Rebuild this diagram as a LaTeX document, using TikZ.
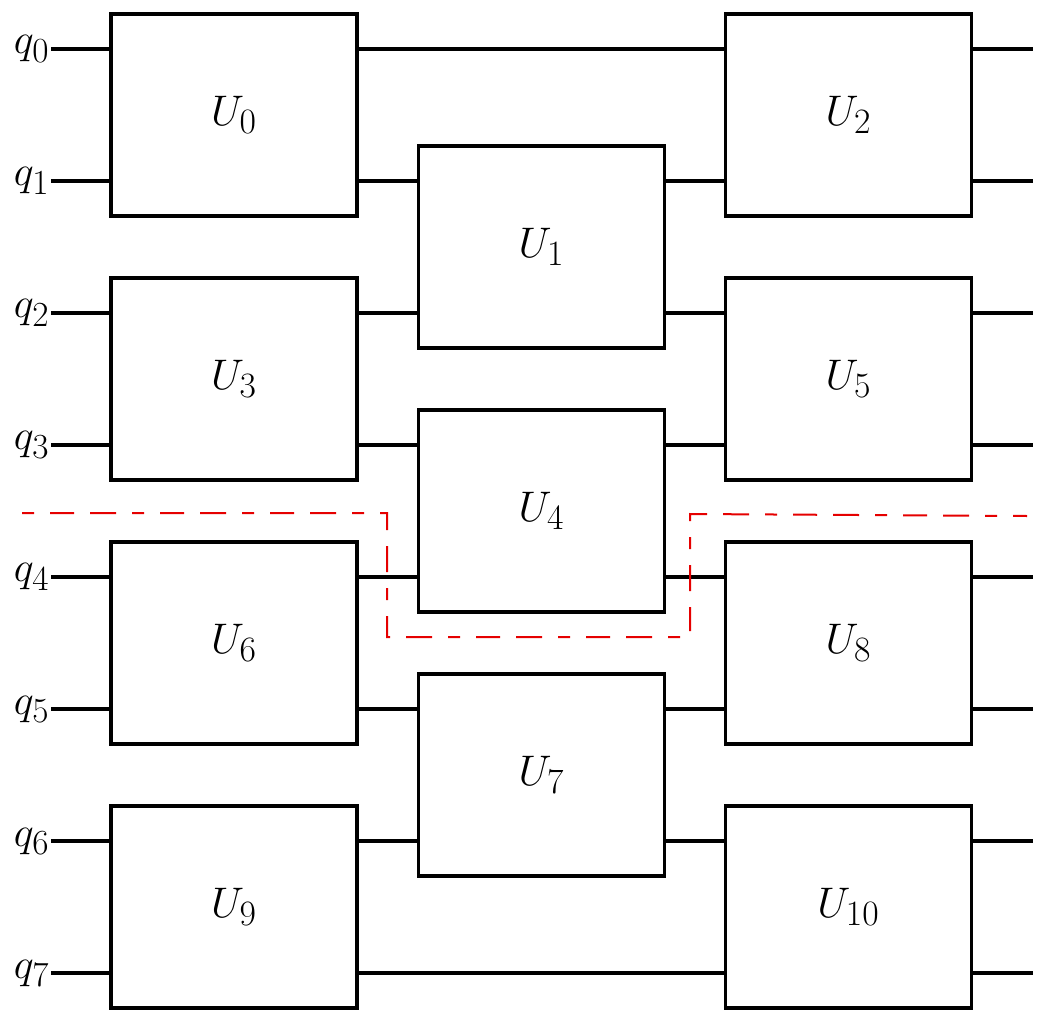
\documentclass[tikz,border=0pt]{standalone}
\usepackage{graphicx}
\newcommand{\biglab}[1]{\scalebox{1.72}{\Huge$#1$}}
\newcommand{\qlabtext}[1]{\scalebox{1.7}{\Huge$#1$}}
\begin{document}
\begin{tikzpicture}[x=1pt,y=-1pt,
  wire/.style={line width=3.2pt},
  gate/.style={draw,line width=3.2pt,fill=white,rectangle,inner sep=0pt,
    minimum width=246pt,minimum height=202pt},
  qlab/.style={anchor=east,inner sep=1.5pt},
  cut/.style={draw=red!90!black,line width=2pt,
    dash pattern=on 12pt off 16pt on 24pt off 16pt on 26pt off 16pt}]
\useasboundingbox (0,0) rectangle (1052,1030);
% wire labels and right ends
\foreach \i/\y in {0/49,1/181,2/313,3/445,4/577,5/709,6/841,7/973}{
  \node[qlab] (q\i) at (51,\y) {\qlabtext{q_{\i}}};
  \coordinate (e\i) at (1033,\y);
  \draw[wire] (q\i.east) -- (e\i);
}
% column 1
\node[gate] (U0) at (234,115) {\biglab{U_0}};
\node[gate] (U3) at (234,379) {\biglab{U_3}};
\node[gate] (U6) at (234,643) {\biglab{U_6}};
\node[gate] (U9) at (234,907) {\biglab{U_9}};
% column 2
\node[gate] (U1) at (541.5,247) {\biglab{U_1}};
\node[gate] (U4) at (541.5,511) {\biglab{U_4}};
\node[gate] (U7) at (541.5,775) {\biglab{U_7}};
% column 3
\node[gate] (U2) at (848.5,115) {\biglab{U_2}};
\node[gate] (U5) at (848.5,379) {\biglab{U_5}};
\node[gate] (U8) at (848.5,643) {\biglab{U_8}};
\node[gate] (U10) at (848.5,907) {\biglab{U_{10}}};
% cut line
\coordinate (c0) at (22,513);
\coordinate (c1) at (387,513);
\coordinate (c2) at (387,637);
\coordinate (c3) at (690,637);
\coordinate (c4) at (690,514);
\coordinate (c5) at (1027,516);
\draw[cut] (c0) -- (c1) -- (c2) -- (c3) -- (c4) -- (c5);
\end{tikzpicture}
\end{document}
